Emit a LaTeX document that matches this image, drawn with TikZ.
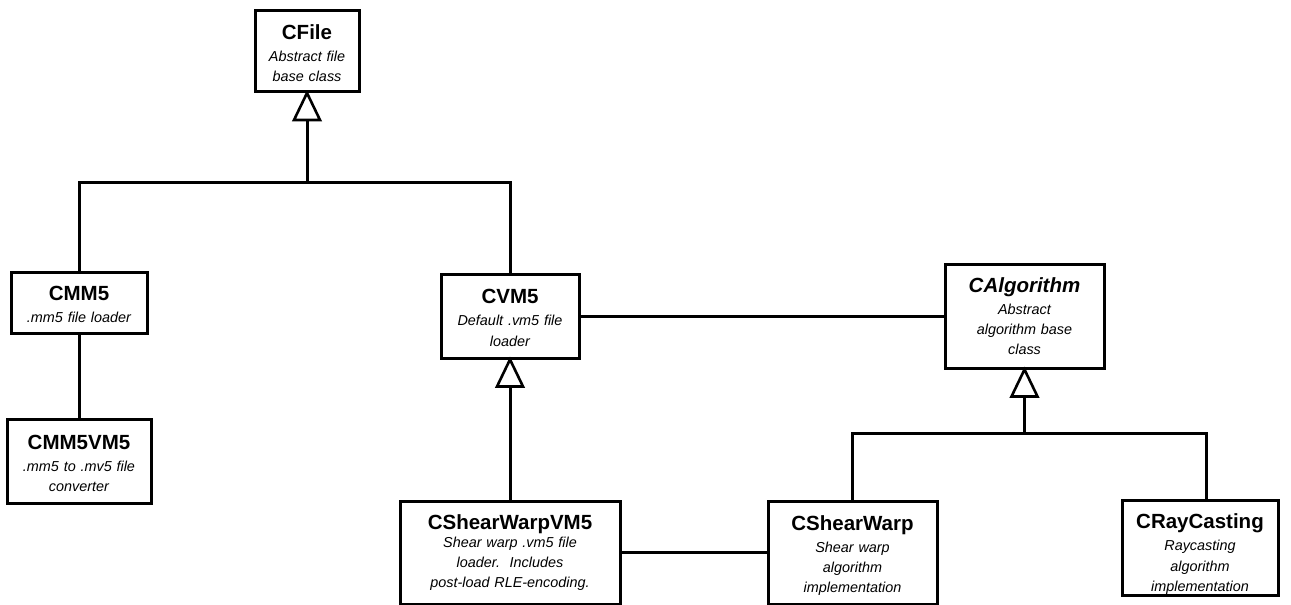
\documentclass[tikz,border=0pt]{standalone}
\usepackage{fontspec}
\setmainfont{Liberation Sans}
\newcommand{\clsname}[2][2pt]{{\fontsize{20.5}{20.5}\selectfont\bfseries\upshape #2}\\[#1]}
\newcommand{\lift}[1]{\rule{0pt}{#1}}
\tikzset{
  cls/.style={draw, line width=3pt, inner sep=0pt, align=center, fill=white,
    font=\fontsize{14.4}{20.2}\selectfont\itshape},
  conn/.style={line width=3pt},
  tri/.style={draw, line width=2.6pt, fill=white, line join=miter},
}
\begin{document}
\begin{tikzpicture}[x=1pt,y=-1pt]
\useasboundingbox (0,0) rectangle (1291,605);

\node[cls, minimum width=104pt, minimum height=81pt, text width=98pt] (cfile) at (307,51)
  {\clsname{\lift{19pt}CFile}Abstract file\\base class};
\node[cls, minimum width=136pt, minimum height=61pt, text width=130pt] (cmm5) at (79,302.5)
  {\clsname{\lift{18pt}CMM5}.mm5 file loader};
\node[cls, minimum width=144pt, minimum height=84pt, text width=138pt] (cmm5vm5) at (79,461)
  {\clsname{\lift{19pt}CMM5VM5}.mm5 to .mv5 file\\converter};
\node[cls, minimum width=138pt, minimum height=84pt, text width=132pt] (cvm5) at (510,316)
  {\clsname{\lift{18pt}CVM5}Default .vm5 file\\loader};
\node[cls, minimum width=159pt, minimum height=104pt, text width=153pt] (calg) at (1024.5,316)
  {\clsname{\itshape CAlgorithm}Abstract\\algorithm base\\class};
\node[cls, minimum width=220pt, minimum height=103pt, text width=214pt] (cswvm5) at (510,552.5)
  {\clsname[-2pt]{CShearWarpVM5}Shear warp .vm5 file\\loader.\ \ Includes\\post-load RLE-encoding.};
\node[cls, minimum width=169pt, minimum height=103pt, text width=163pt] (csw) at (852.5,552.5)
  {\clsname{\lift{21pt}CShearWarp}Shear warp\\algorithm\\implementation};
\node[cls, minimum width=156pt, minimum height=95pt, text width=150pt] (cray) at (1200,547.5)
  {\clsname{\lift{28pt}CRayCasting}Raycasting\\algorithm\\implementation};

% CFile hierarchy
\coordinate (j1) at (307,182);
\coordinate (t1) at ([yshift=-27pt]cfile.south);
\draw[conn] (cmm5.north) |- (j1) -| (cvm5.north);
\draw[conn] (j1) -- (t1);
\draw[tri] (cfile.south) -- ([xshift=-13pt]t1) -- ([xshift=13pt]t1) -- cycle;

% CMM5 -- CMM5VM5
\draw[conn] (cmm5) -- (cmm5vm5);

% CVM5 -- CAlgorithm
\draw[conn] (cvm5.east) -- (calg.west);

% CVM5 <- CShearWarpVM5
\coordinate (t2) at ([yshift=-27pt]cvm5.south);
\draw[conn] (cswvm5.north) -- (t2);
\draw[tri] (cvm5.south) -- ([xshift=-13pt]t2) -- ([xshift=13pt]t2) -- cycle;

% CShearWarpVM5 -- CShearWarp
\draw[conn] (cswvm5.east) -- (csw.west);

% CAlgorithm hierarchy
\coordinate (j3) at (1024.5,433);
\coordinate (t3) at ([yshift=-27pt]calg.south);
\coordinate (r1) at ([xshift=6pt]cray.north);
\draw[conn] (csw.north) |- (j3) -| (r1);
\draw[conn] (j3) -- (t3);
\draw[tri] (calg.south) -- ([xshift=-13pt]t3) -- ([xshift=13pt]t3) -- cycle;
\end{tikzpicture}
\end{document}
